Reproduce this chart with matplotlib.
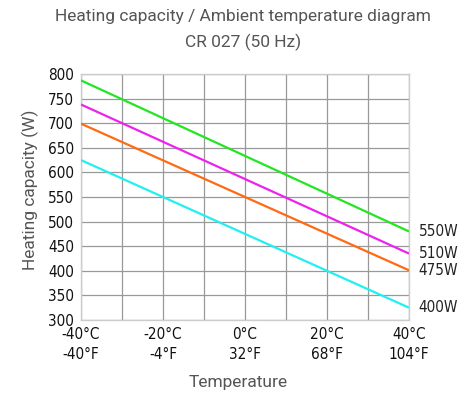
import matplotlib
matplotlib.use("Agg")
import matplotlib.pyplot as plt

temps_c = [-40, 40]
series_labels = ["550W", "510W", "475W", "400W"]
series_values = [
    [787, 480],
    [738, 435],
    [699, 401],
    [625, 325],
]
series_colors = ["#22e622", "#ee22ee", "#ff6a13", "#22f0f0"]
xtick_labels = ["-40°C\n-40°F", "", "-20°C\n-4°F", "", "0°C\n32°F", "", "20°C\n68°F", "", "40°C\n104°F"]
yticks = list(range(300, 801, 50))

NARROW = dict(family=['Liberation Sans Narrow', 'DejaVu Sans'], stretch='condensed')

fig = plt.figure(figsize=(4.67, 3.98), dpi=100)
ax = fig.add_axes([81/467, 1-320/398, 328/467, 246/398])

for vals, col, lab in zip(series_values, series_colors, series_labels):
    ax.plot(temps_c, vals, color=col, lw=1.6, solid_capstyle='butt', zorder=3)
    ax.text(1.03, (vals[-1]-300)/500, lab, transform=ax.transAxes,
            ha='left', va='center', fontsize=11, color='#222222', **NARROW)

ax.set_xlim(-40, 40)
ax.set_ylim(300, 800)
ax.set_xticks(range(-40, 41, 10))
ax.set_xticklabels(xtick_labels, linespacing=1.45)
ax.set_yticks(yticks)
ax.grid(True, color='#999999', lw=0.9)
ax.set_axisbelow(True)
ax.tick_params(axis='x', length=0, labelsize=11, pad=5)
ax.tick_params(axis='y', length=0, labelsize=11, pad=5)
for lbl in ax.get_xticklabels() + ax.get_yticklabels():
    lbl.set_family(NARROW['family'])
    lbl.set_stretch('condensed')
    lbl.set_color('#111111')
for s in ax.spines.values():
    s.set_color('#cccccc')
    s.set_linewidth(1.0)

fig.text(243/467, 1-17/398, "Heating capacity / Ambient temperature diagram", ha='center', va='center',
         fontsize=12.5, family='Roboto', color='#555555')
fig.text(243/467, 1-42/398, "CR 027 (50 Hz)", ha='center', va='center',
         fontsize=12.5, family='Roboto', color='#555555')
fig.text(30/467, 1-190/398, "Heating capacity (W)", rotation=90, ha='center', va='center',
         fontsize=12.5, family='Roboto', color='#555555')
fig.text(238/467, 1-383/398, "Temperature", ha='center', va='center',
         fontsize=12.5, family='Roboto', color='#555555')

fig.savefig("out.png", dpi=100)
